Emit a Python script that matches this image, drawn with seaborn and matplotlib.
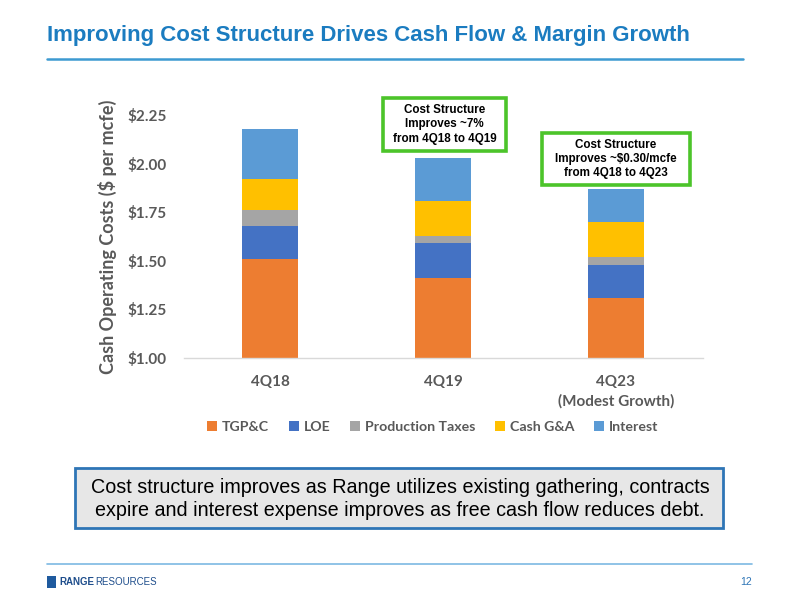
import pandas as pd
import matplotlib.pyplot as plt
import seaborn as sns
from matplotlib.patches import Patch, Rectangle
from matplotlib.lines import Line2D

# data ($ per mcfe, stacked)
quarters = ["4Q18", "4Q19", "4Q23\n(Modest Growth)"]
series = ["TGP&C", "LOE", "Production Taxes", "Cash G&A", "Interest"]
tgpc = [1.51, 1.41, 1.31]
loe = [0.17, 0.18, 0.17]
prod_taxes = [0.08, 0.04, 0.04]
cash_ga = [0.16, 0.18, 0.18]
interest = [0.26, 0.22, 0.17]
colors = ["#ED7D31", "#4472C4", "#A5A5A5", "#FFC000", "#5B9BD5"]

yticks = [1.00, 1.25, 1.50, 1.75, 2.00, 2.25]

df = pd.DataFrame({"quarter": quarters, "TGP&C": tgpc, "LOE": loe,
                   "Production Taxes": prod_taxes, "Cash G&A": cash_ga,
                   "Interest": interest})
cum = df[series].cumsum(axis=1)

sns.set_style("white")
plt.rcParams["font.family"] = ["Lato", "DejaVu Sans"]

W, H = 800, 600
fig = plt.figure(figsize=(8, 6), dpi=100)
ax = fig.add_axes([183.5 / W, 1 - 358 / H, 519 / W, 243 / H])

# draw the tallest cumulative bar first, then overlay the lower ones
for name, col in reversed(list(zip(series, colors))):
    sns.barplot(x=df["quarter"], y=cum[name], color=col, saturation=1,
                width=0.32, linewidth=0, ax=ax)

ax.set_ylim(1.0, 2.25)
ax.set_xlim(-0.5, 2.5)
ax.set_yticks(yticks)
ax.set_yticklabels([f"${v:.2f}" for v in yticks])
ax.tick_params(axis="both", length=0, labelcolor="#595959", labelsize=11)
ax.tick_params(axis="x", pad=12)
ax.tick_params(axis="y", pad=12)
for lab in ax.get_xticklabels() + ax.get_yticklabels():
    lab.set_fontweight("bold")
for lab in ax.get_xticklabels():
    lab.set_linespacing(1.5)
ax.set_xlabel("")
ax.set_ylabel("Cash Operating Costs ($ per mcfe)", fontsize=13,
              fontweight="bold", color="#595959")
ax.yaxis.set_label_coords(-0.128, 0.5)
for s in ["top", "right", "left"]:
    ax.spines[s].set_visible(False)
ax.spines["bottom"].set_color("#D9D9D9")
ax.spines["bottom"].set_linewidth(1)

handles = [Patch(facecolor=c, edgecolor="none", label=s) for s, c in zip(series, colors)]
leg = fig.legend(handles=handles, loc="center", bbox_to_anchor=(0.541, 1 - 427 / H),
                 ncol=5, frameon=False, handlelength=0.7, handleheight=0.7,
                 handletextpad=0.35, columnspacing=1.4,
                 prop={"weight": "bold", "size": 10.2})
for t in leg.get_texts():
    t.set_color("#595959")

# slide title and rule
fig.text(47 / W, 1 - 36 / H, "Improving Cost Structure Drives Cash Flow & Margin Growth",
         family="Liberation Sans", fontsize=16, fontweight="bold", color="#1B7CC0",
         va="center", ha="left")
fig.add_artist(Line2D([47 / W, 743 / W], [1 - 59 / H, 1 - 59 / H],
                      color="#3D9AD1", lw=1.8))

# green callout boxes
def callout(x0, x1, y0, y1, txt):
    fig.add_artist(Rectangle((x0 / W, 1 - y1 / H), (x1 - x0) / W, (y1 - y0) / H,
                             transform=fig.transFigure, facecolor="white",
                             edgecolor="#4CC42A", lw=2.6))
    fig.text((x0 + x1) / 2 / W, 1 - (y0 + y1) / 2 / H, txt, ha="center", va="center",
             family="Liberation Sans", fontsize=8.4, fontweight="bold",
             color="black", linespacing=1.25)

callout(383, 506, 98, 151, "Cost Structure\nImproves ~7%\nfrom 4Q18 to 4Q19")
callout(542, 690, 133, 185, "Cost Structure\nImproves ~$0.30/mcfe\nfrom 4Q18 to 4Q23")

# bottom message box
fig.add_artist(Rectangle((75 / W, 1 - 528 / H), 648 / W, 60 / H,
                         transform=fig.transFigure, facecolor="#E7E7E7",
                         edgecolor="#2E75B6", lw=2))
fig.text(400 / W, 1 - 499 / H,
         "Cost structure improves as Range utilizes existing gathering, contracts\n"
         "expire and interest expense improves as free cash flow reduces debt.",
         ha="center", va="center", family="Liberation Sans", fontsize=14.2,
         color="black", linespacing=1.25)

# footer
fig.add_artist(Line2D([47 / W, 752 / W], [1 - 564 / H, 1 - 564 / H],
                      color="#7DB9E3", lw=1.2))
fig.add_artist(Rectangle((47 / W, 1 - 588 / H), 9 / W, 12 / H,
                         transform=fig.transFigure, facecolor="#1F5A9E",
                         edgecolor="none"))
fig.text(59 / W, 1 - 582 / H, "RANGE", family="Liberation Sans", fontsize=7,
         fontweight="bold", color="#1F4E8C", va="center")
fig.text(95 / W, 1 - 582 / H, "RESOURCES", family="Liberation Sans", fontsize=7,
         color="#1F4E8C", va="center")
fig.text(752 / W, 1 - 582 / H, "12", family="Liberation Sans", fontsize=7.5,
         color="#2E75B6", va="center", ha="right")

fig.savefig("out.png", dpi=100)
